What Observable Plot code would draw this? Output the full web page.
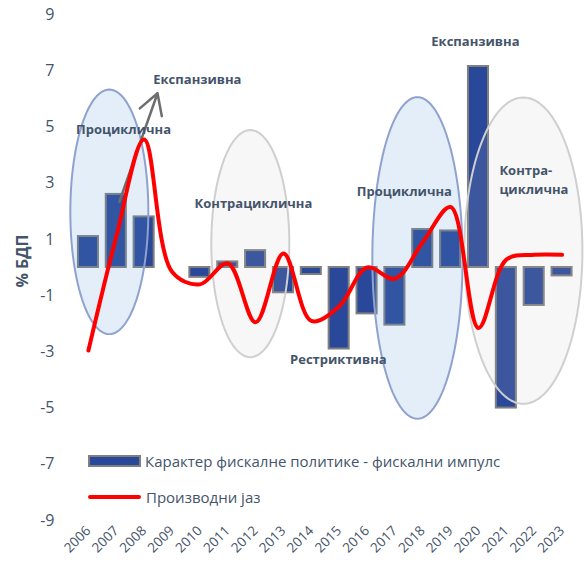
<!DOCTYPE html>
<html>
<head>
<meta charset="utf-8">
<script src="https://cdn.jsdelivr.net/npm/d3@7"></script>
<script src="https://cdn.jsdelivr.net/npm/@observablehq/plot@0.6"></script>
<style>
  html, body { margin: 0; padding: 0; background: #fff; }
  #wrap { position: relative; width: 584px; height: 565px; font-family: "Open Sans", sans-serif; }
  .leg { position: absolute; left: 88px; display: flex; align-items: center; color: #44546a; font-size: 15px; white-space: nowrap; }
  .sw1 { width: 49px; height: 8px; background: #2a4899; border: 2px solid #7f7f7f; margin-right: 4px; }
  .sw2 { width: 53px; height: 4px; background: #ff0000; border-radius: 2px; margin-right: 5px; }
</style>
</head>
<body>
<div id="wrap"></div>
<script>
const years = [2006,2007,2008,2009,2010,2011,2012,2013,2014,2015,2016,2017,2018,2019,2020,2021,2022,2023];
const impulse = [1.1, 2.6, 1.8, 0, -0.35, 0.2, 0.6, -0.9, -0.25, -2.9, -1.65, -2.05, 1.35, 1.3, 7.15, -5.0, -1.35, -0.3];
const outputGap = [-2.95, 1.1, 4.55, -0.15, -0.6, 0.15, -1.95, 0.5, -1.9, -1.38, 0.0, -0.4, 0.9, 2.15, -2.15, 0.28, 0.45, 0.45];
const yTicks = [9, 7, 5, 3, 1, -1, -3, -5, -7, -9];
const seriesNames = ["Карактер фискалне политике - фискални импулс", "Производни јаз"];
const yLabel = "% БДП";

// annotation ellipses (data units: centre year/value, radius in years/value)
const ellipses = [
  {id: 1, kind: "blue", cx: 2006.75, cy: 1.98, rx: 1.40, ry: 4.35},
  {id: 2, kind: "gray", cx: 2011.81, cy: 0.85, rx: 1.40, ry: 4.04},
  {id: 3, kind: "blue", cx: 2017.81, cy: 0.34, rx: 1.62, ry: 5.72},
  {id: 4, kind: "gray", cx: 2021.61, cy: 0.60, rx: 2.12, ry: 5.45}
];
const centredLabels = [
  {text: "Експанзивна", x: 2009.91, y: 6.69},
  {text: "Проциклична", x: 2007.26, y: 4.88},
  {text: "Контрациклична", x: 2011.92, y: 2.27},
  {text: "Рестриктивна", x: 2014.97, y: -3.29},
  {text: "Проциклична", x: 2017.34, y: 2.69},
  {text: "Експанзивна", x: 2019.89, y: 8.04}
];
const leftLabels = [
  {text: "Контра-", x: 2020.75, y: 3.43},
  {text: "циклична", x: 2020.75, y: 2.76}
];
const arrow = [{x1: 2007.11, y1: 2.34, x2: 2008.48, y2: 6.2}];

const bars = years.map((y, i) => ({year: y, value: impulse[i]}));
const gap = years.map((y, i) => ({year: y, value: outputGap[i]}));

function ellipsePts(kind) {
  const pts = [];
  for (const e of ellipses.filter(e => e.kind === kind)) {
    for (let k = 0; k <= 120; k++) {
      const t = (k / 120) * 2 * Math.PI;
      pts.push({id: e.id, x: e.cx + e.rx * Math.cos(t), y: e.cy + e.ry * Math.sin(t)});
    }
  }
  return pts;
}

const chart = Plot.plot({
  width: 584,
  height: 565,
  marginTop: 14,
  marginBottom: 45,
  marginLeft: 74,
  marginRight: 8.5,
  style: {fontFamily: "Open Sans, sans-serif", color: "#44546a", background: "transparent"},
  x: {domain: [2005.5, 2023.5]},
  y: {domain: [-9, 9]},
  marks: [
    Plot.axisX({ticks: years, tickFormat: d => String(d), tickRotate: -45, tickSize: 0, tickPadding: 8, fontSize: 13.5, label: null}),
    Plot.axisY({ticks: yTicks, tickFormat: d => String(d), tickSize: 0, tickPadding: 20, fontSize: 16, label: null}),
    Plot.rectY(bars, {x1: d => d.year - 0.36, x2: d => d.year + 0.36, y1: 0, y2: "value", fill: "#2a4899", stroke: "#7f7f7f", strokeWidth: 2}),
    Plot.line(ellipsePts("blue"), {x: "x", y: "y", z: "id", fill: "rgb(91,155,213)", fillOpacity: 0.17, stroke: "#8fa2cf", strokeWidth: 2, curve: "linear"}),
    Plot.line(ellipsePts("gray"), {x: "x", y: "y", z: "id", fill: "#c4c4c4", fillOpacity: 0.13, stroke: "#cfcfcf", strokeWidth: 2, curve: "linear"}),
    Plot.arrow(arrow, {x1: "x1", y1: "y1", x2: "x2", y2: "y2", stroke: "#6e6e6e", strokeWidth: 2.5, headLength: 14}),
    Plot.line(gap, {x: "year", y: "value", stroke: "#ff0000", strokeWidth: 4, curve: "catmull-rom", strokeLinecap: "round"}),
    Plot.text(centredLabels, {x: "x", y: "y", text: "text", textAnchor: "middle", fontWeight: "bold", fontSize: 13, fill: "#44546a"}),
    Plot.text(leftLabels, {x: "x", y: "y", text: "text", textAnchor: "start", fontWeight: "bold", fontSize: 13, fill: "#44546a"}),
    Plot.text([yLabel], {frameAnchor: "left", y: () => 0.23, dx: -52, rotate: -90, textAnchor: "middle", text: d => d, fontWeight: "bold", fontSize: 16, fill: "#44546a"})
  ]
});

const wrap = document.getElementById("wrap");
wrap.appendChild(chart);
const l1 = document.createElement("div");
l1.className = "leg"; l1.style.top = "451px";
l1.innerHTML = `<span class="sw1"></span><span>${seriesNames[0]}</span>`;
const l2 = document.createElement("div");
l2.className = "leg"; l2.style.top = "487px";
l2.innerHTML = `<span class="sw2"></span><span>${seriesNames[1]}</span>`;
wrap.appendChild(l1); wrap.appendChild(l2);
</script>
</body>
</html>
